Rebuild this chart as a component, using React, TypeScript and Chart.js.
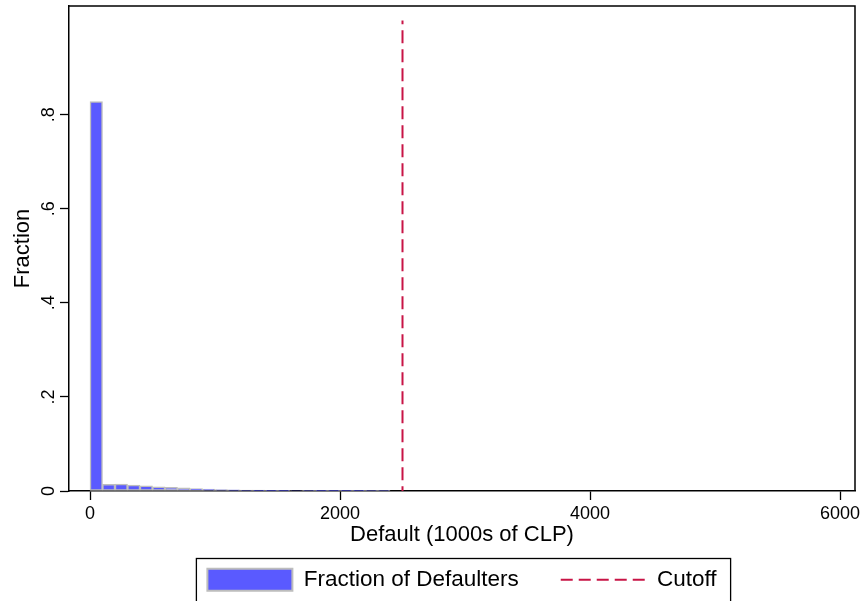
import { useEffect, useRef } from "react"
import { Chart, registerables } from "chart.js"

Chart.register(...registerables)

// histogram bins (centres, width 100) and fraction per bin
const binCenters = [
  50, 150, 250, 350, 450, 550, 650, 750, 850, 950, 1050, 1150,
  1250, 1350, 1450, 1550, 1650, 1750, 1850, 1950, 2050, 2150, 2250, 2350,
]
const fractions = [
  0.828, 0.014, 0.0145, 0.0125, 0.011, 0.009, 0.0078, 0.0065, 0.005, 0.004, 0.0032, 0.0027,
  0.0022, 0.0019, 0.0016, 0.0013, 0.0011, 0.0009, 0.0006, 0.0004, 0.0002, 0.0002, 0.0001, 0.0001,
]
const cutoffX = [2500, 2500]
const cutoffY = [1, 0]
const xTicks = [0, 2000, 4000, 6000]
const yTicks = [0, 0.2, 0.4, 0.6, 0.8]

const FONT = "'Liberation Sans', Arial, Helvetica, sans-serif"
const BAR_FILL = "#5a5aff"
const BAR_EDGE = "#bdbdbd"
const CUTOFF_COLOR = "#c81446"

// draws the plot frame (top/right) and the box around the legend
const framePlugin = {
  id: "frame",
  afterDraw(chart: any) {
    const { ctx, chartArea } = chart
    ctx.save()
    ctx.strokeStyle = "#000"
    ctx.lineWidth = 1.5
    ctx.beginPath()
    ctx.moveTo(chartArea.left, chartArea.top)
    ctx.lineTo(chartArea.right, chartArea.top)
    ctx.lineTo(chartArea.right, chartArea.bottom)
    ctx.stroke()

    const boxes = chart.legend?.legendHitBoxes
    if (boxes && boxes.length) {
      const first = boxes[0]
      const last = boxes[boxes.length - 1]
      const left = first.left - 11
      const top = first.top - 10
      const right = last.left + last.width + 14
      ctx.lineWidth = 1.3
      ctx.strokeRect(left, top, right - left, first.height + 30)
    }
    ctx.restore()
  },
}

function Histogram() {
  const chartRef = useRef<HTMLCanvasElement>(null)
  const chartInstance = useRef<Chart | null>(null)

  useEffect(() => {
    if (!chartRef.current) return
    if (chartInstance.current) chartInstance.current.destroy()

    Chart.defaults.font.family = FONT
    Chart.defaults.color = "#000"

    const ctx = chartRef.current.getContext("2d")
    if (!ctx) return

    chartInstance.current = new Chart(ctx, {
      type: "bar",
      data: {
        datasets: [
          {
            type: "bar",
            label: "Fraction of Defaulters",
            data: binCenters.map((x, i) => ({ x, y: fractions[i] })),
            backgroundColor: BAR_FILL,
            borderColor: BAR_EDGE,
            borderWidth: 1.5,
            borderSkipped: false,
            barPercentage: 1,
            categoryPercentage: 1,
          },
          {
            type: "line",
            label: "Cutoff",
            data: cutoffX.map((x, i) => ({ x, y: cutoffY[i] })),
            borderColor: CUTOFF_COLOR,
            borderWidth: 2,
            borderDash: [13, 6],
            borderDashOffset: 9.4,
            pointRadius: 0,
            fill: false,
          },
        ] as any,
      },
      options: {
        responsive: true,
        maintainAspectRatio: false,
        animation: false,
        events: [],
        layout: { padding: { top: 6, right: 10, left: 0, bottom: 0 } },
        scales: {
          x: {
            type: "linear",
            min: -168,
            max: 6120,
            offset: false,
            afterBuildTicks: (scale: any) => {
              scale.ticks = xTicks.map((value) => ({ value }))
            },
            afterFit: (scale: any) => {
              scale.height = 35.5
              scale.paddingLeft = 0
              scale.paddingRight = 0
            },
            grid: {
              display: true,
              offset: false,
              drawOnChartArea: false,
              drawTicks: true,
              tickLength: 9,
              tickColor: "#000",
              tickWidth: 1.3,
            },
            border: { display: true, color: "#000", width: 1.5 },
            ticks: {
              autoSkip: false,
              maxRotation: 0,
              padding: 3,
              font: { size: 18 },
              callback: (v: any) => String(v),
            },
            title: {
              display: true,
              text: "Default (1000s of CLP)",
              font: { size: 22 },
              padding: { top: 0, bottom: -22 },
            },
          },
          y: {
            type: "linear",
            min: 0,
            max: 1.031,
            afterBuildTicks: (scale: any) => {
              scale.ticks = yTicks.map((value) => ({ value }))
            },
            afterFit: (scale: any) => {
              scale.width = 69
              scale.paddingTop = 0
              scale.paddingBottom = 0
            },
            grid: {
              display: true,
              drawOnChartArea: false,
              drawTicks: true,
              tickLength: 9,
              tickColor: "#000",
              tickWidth: 1.3,
            },
            border: { display: true, color: "#000", width: 1.5 },
            ticks: {
              autoSkip: false,
              minRotation: 90,
              maxRotation: 90,
              crossAlign: "center",
              padding: 3,
              font: { size: 18 },
              callback: (v: any) => (v === 0 ? "0" : String(v).replace(/^0\./, ".")),
            },
            title: {
              display: true,
              text: "Fraction",
              font: { size: 22 },
              padding: { top: 10, bottom: 0 },
            },
          },
        },
        plugins: {
          tooltip: { enabled: false },
          legend: {
            position: "bottom",
            fullSize: false,
            labels: {
              usePointStyle: true,
              pointStyleWidth: 85,
              boxHeight: 22,
              padding: 42,
              font: { size: 22.5 },
              color: "#000",
              generateLabels: () => [
                {
                  text: "Fraction of Defaulters",
                  fillStyle: BAR_FILL,
                  strokeStyle: BAR_EDGE,
                  lineWidth: 2,
                  pointStyle: "rect",
                  datasetIndex: 0,
                  hidden: false,
                  fontColor: "#000",
                },
                {
                  text: "Cutoff",
                  fillStyle: "rgba(0,0,0,0)",
                  strokeStyle: CUTOFF_COLOR,
                  lineWidth: 2,
                  lineDash: [12, 6],
                  pointStyle: "line",
                  datasetIndex: 1,
                  hidden: false,
                  fontColor: "#000",
                },
              ],
            },
          },
        },
      } as any,
      plugins: [framePlugin],
    })

    return () => {
      if (chartInstance.current) {
        chartInstance.current.destroy()
        chartInstance.current = null
      }
    }
  }, [])

  return (
    <div style={{ position: "fixed", left: 0, top: 0, width: 865, height: 601, background: "#fff" }}>
      <canvas ref={chartRef} />
    </div>
  )
}

export default function App() {
  return <Histogram />
}
